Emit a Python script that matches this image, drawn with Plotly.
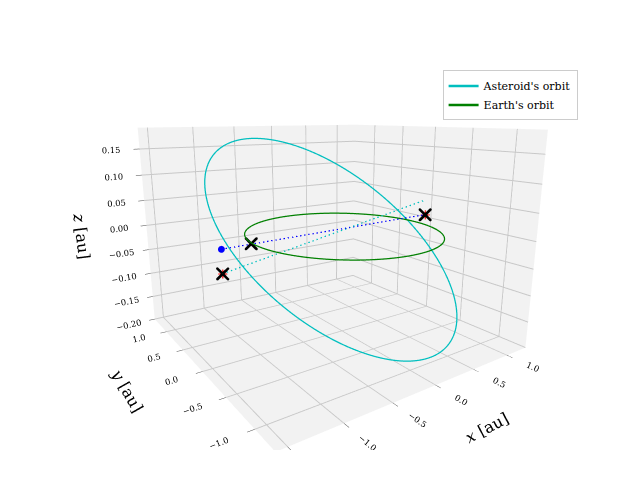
import numpy as np
import plotly.graph_objects as go

# orbital parameters
ast_a = 1.25; ast_e = 0.1; ast_inc_deg = 7.5; ast_node_deg = 12.0; ast_peri_deg = 348.0
earth_r = 1.0
n_pts = 361

# marker positions [x, y, z]
earth_pos = [0.98, -0.2, 0.02]
ast_pos = [-1.0, 0.8, -0.04]
earth_proj = [-0.72, 0.65, -0.03]
ast_proj = [-1.0, 0.8, -0.09]
cyan_end = [0.98, -0.2, 0.05]

t = np.linspace(0, 2*np.pi, n_pts)
ex, ey, ez = earth_r*np.cos(t), earth_r*np.sin(t), np.zeros_like(t)
r = ast_a*(1-ast_e**2)/(1+ast_e*np.cos(t))
xo, yo = r*np.cos(t), r*np.sin(t)
w, i, O = np.radians([ast_peri_deg, ast_inc_deg, ast_node_deg])
x1 = xo*np.cos(w)-yo*np.sin(w); y1 = xo*np.sin(w)+yo*np.cos(w)
y2 = y1*np.cos(i); z2 = y1*np.sin(i)
ax_ = x1*np.cos(O)-y2*np.sin(O); ay_ = x1*np.sin(O)+y2*np.cos(O); az_ = z2

fig = go.Figure()
fig.add_trace(go.Scatter3d(x=ax_, y=ay_, z=az_, mode='lines', line=dict(color='#00bfbf', width=2.5), name="Asteroid's orbit"))
fig.add_trace(go.Scatter3d(x=ex, y=ey, z=ez, mode='lines', line=dict(color='green', width=2.5), name="Earth's orbit"))
fig.add_trace(go.Scatter3d(x=[ast_pos[0], earth_pos[0]], y=[ast_pos[1], earth_pos[1]], z=[ast_pos[2], earth_pos[2]],
                           mode='lines', line=dict(color='blue', width=2.5, dash='dash'), showlegend=False))
fig.add_trace(go.Scatter3d(x=[ast_proj[0], cyan_end[0]], y=[ast_proj[1], cyan_end[1]], z=[ast_proj[2], cyan_end[2]],
                           mode='lines', line=dict(color='#00bfbf', width=2.5, dash='dash'), showlegend=False))
fig.add_trace(go.Scatter3d(x=[ast_pos[0]], y=[ast_pos[1]], z=[ast_pos[2]], mode='markers',
                           marker=dict(color='blue', size=4), showlegend=False))
fig.add_trace(go.Scatter3d(x=[ast_proj[0], earth_pos[0]], y=[ast_proj[1], earth_pos[1]], z=[ast_proj[2], earth_pos[2]], mode='markers',
                           marker=dict(color='red', size=5, symbol='cross'), showlegend=False))
fig.add_trace(go.Scatter3d(x=[ast_proj[0], earth_proj[0], earth_pos[0]], y=[ast_proj[1], earth_proj[1], earth_pos[1]],
                           z=[ast_proj[2], earth_proj[2], earth_pos[2]], mode='markers',
                           marker=dict(color='black', size=3, symbol='x'), showlegend=False))

axis = dict(backgroundcolor='#f2f2f2', gridcolor='#c8c8c8', showbackground=True, zeroline=False,
            tickfont=dict(family='DejaVu Serif', size=10), ticks='outside')
fig.update_layout(
    width=640, height=480, paper_bgcolor='white', margin=dict(l=0, r=0, t=0, b=0),
    font=dict(family='DejaVu Serif', size=11, color='black'),
    scene=dict(
        xaxis=dict(axis, title=dict(text='<i>x</i> [au]', font=dict(size=16)), range=[-1.6, 1.3], tickvals=[-1.5,-1.0,-0.5,0.0,0.5,1.0],
                   ticktext=['−1.5','−1.0','−0.5','0.0','0.5','1.0']),
        yaxis=dict(axis, title=dict(text='<i>y</i> [au]', font=dict(size=16)), range=[-1.3, 1.4], tickvals=[-1.0,-0.5,0.0,0.5,1.0],
                   ticktext=['−1.0','−0.5','0.0','0.5','1.0']),
        zaxis=dict(axis, title=dict(text='<i>z</i> [au]', font=dict(size=16)), range=[-0.2, 0.19],
                   tickvals=[-0.2,-0.15,-0.1,-0.05,0,0.05,0.1,0.15],
                   ticktext=['−0.20','−0.15','−0.10','−0.05','0.00','0.05','0.10','0.15']),
        aspectmode='manual', aspectratio=dict(x=1, y=1, z=0.75),
        camera=dict(eye=dict(x=-1.0, y=-1.45, z=0.42), center=dict(x=0, y=0, z=-0.02)),
        domain=dict(x=[0.05, 0.95], y=[0.08, 0.95])),
    legend=dict(x=0.89, y=0.87, xanchor='right', yanchor='top', bordercolor='#ccc', borderwidth=1,
                bgcolor='white', font=dict(size=11)))
fig.write_html('out.html')
